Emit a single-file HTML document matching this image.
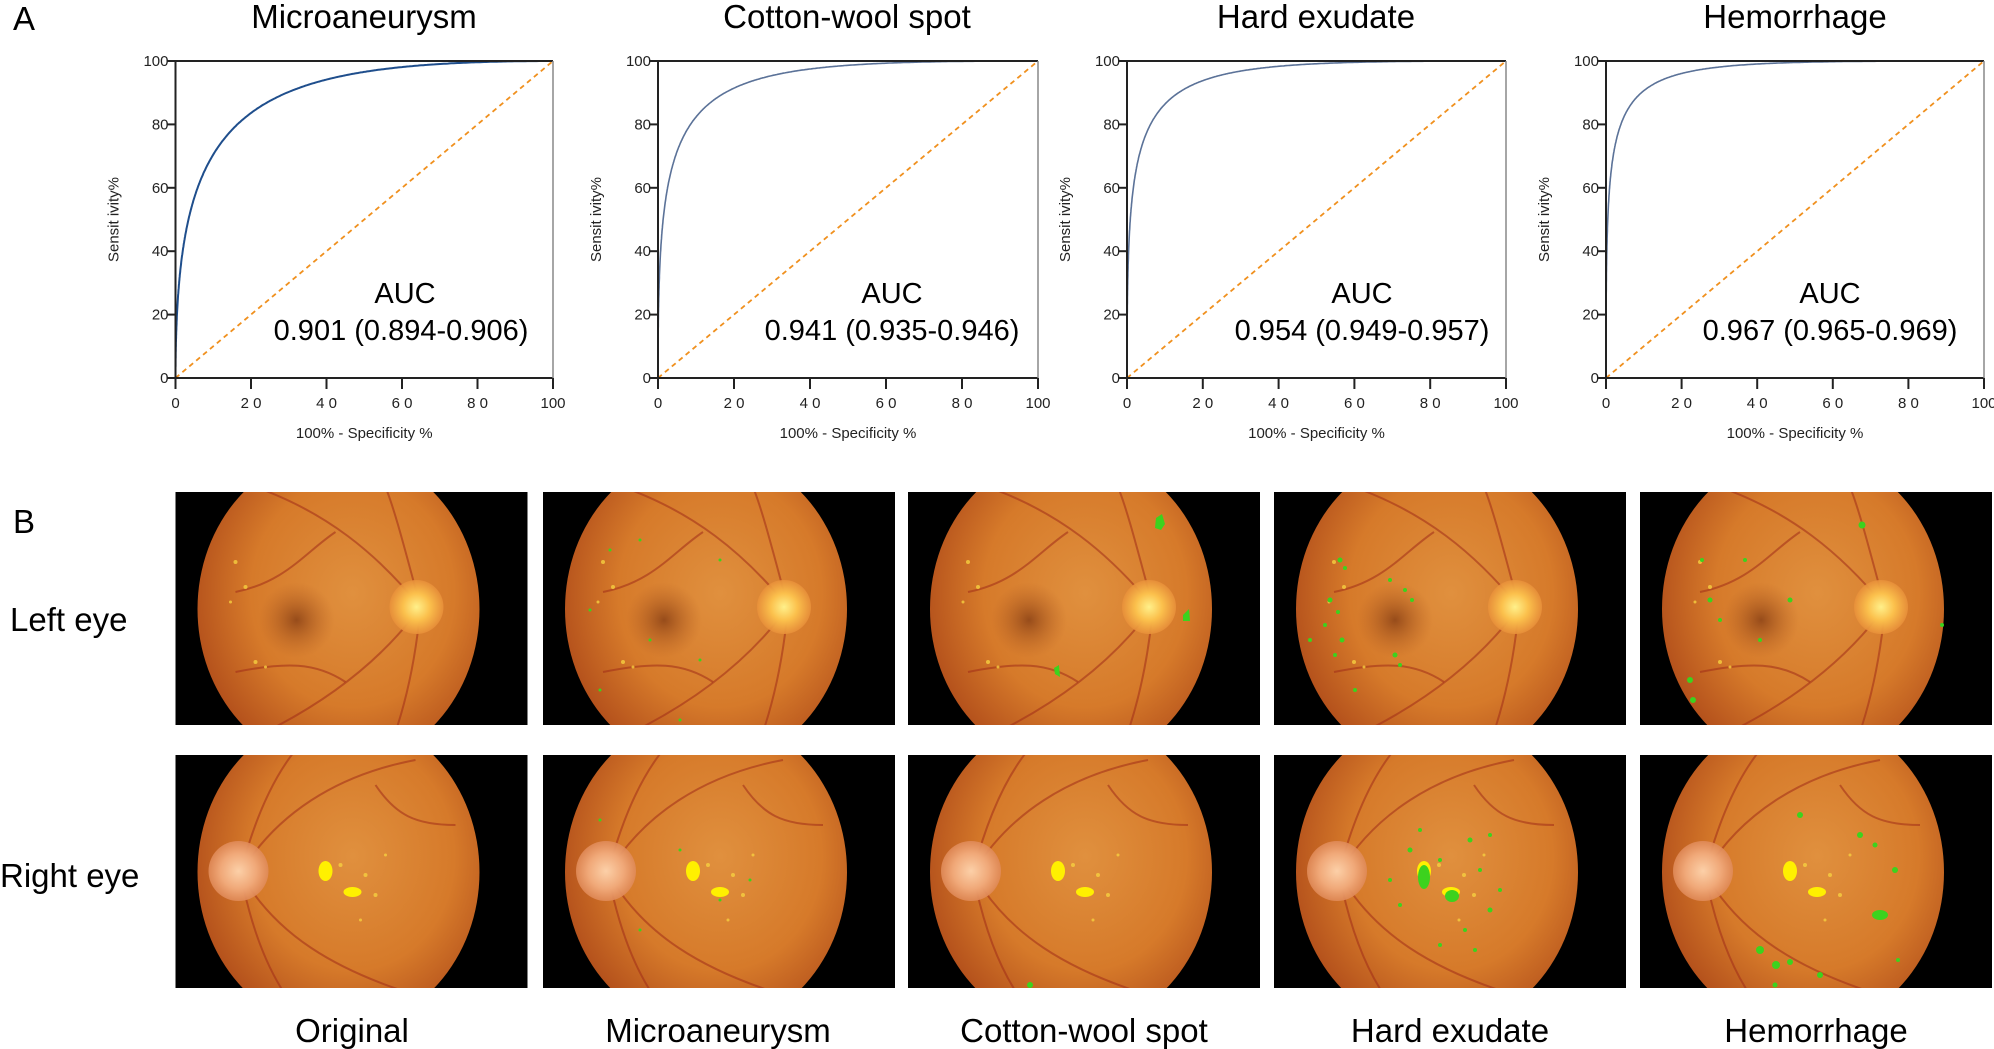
<!DOCTYPE html>
<html><head><meta charset="utf-8"><style>
html,body{margin:0;padding:0;background:#fff;}
svg{display:block;}
text{font-family:"Liberation Sans",sans-serif;fill:#000;}
.tk{font-family:"Liberation Sans Narrow","Liberation Sans",sans-serif;font-size:15px;fill:#222;}
.ttl{font-size:33px;text-anchor:middle;}
.auc{font-size:29px;text-anchor:middle;}
.lab{font-size:33px;}
</style></head><body>
<svg id="s" width="1994" height="1049" viewBox="0 0 1994 1049" xmlns="http://www.w3.org/2000/svg">
<defs>
<radialGradient id="fg" cx="0.55" cy="0.45" r="0.6">
<stop offset="0" stop-color="#e0903e"/><stop offset="0.6" stop-color="#d67a2a"/><stop offset="1" stop-color="#b04c1a"/>
</radialGradient>
<radialGradient id="disc1"><stop offset="0" stop-color="#fff08a"/><stop offset="0.5" stop-color="#fbc04c"/><stop offset="1" stop-color="#e8903a" stop-opacity="0.9"/></radialGradient>
<radialGradient id="disc2"><stop offset="0" stop-color="#fcd0a8"/><stop offset="0.6" stop-color="#f0a878"/><stop offset="1" stop-color="#e08a58" stop-opacity="0.9"/></radialGradient>
<radialGradient id="fov"><stop offset="0" stop-color="#7a3410" stop-opacity="0.7"/><stop offset="1" stop-color="#b05820" stop-opacity="0"/></radialGradient>
<clipPath id="cp"><rect x="0" y="0" width="352" height="233"/></clipPath>
<g id="f1" clip-path="url(#cp)">
<rect width="352" height="233" fill="#000"/>
<ellipse cx="163" cy="117" rx="141" ry="158" fill="url(#fg)"/>
<circle cx="121" cy="128" r="38" fill="url(#fov)"/>
<g fill="none" stroke="#a02c18" stroke-opacity="0.55" stroke-width="2">
<path d="M245 115 C 200 60 150 20 80 -5"/><path d="M245 115 C 205 170 150 210 90 240"/>
<path d="M245 115 C 230 60 220 20 210 -5"/><path d="M245 115 C 240 170 230 210 220 240"/>
<path d="M160 40 C 130 60 110 90 60 100"/><path d="M170 190 C 140 170 110 170 60 180"/>
</g>
<circle cx="241" cy="115" r="27" fill="url(#disc1)"/>
<g fill="#f6d040" opacity="0.8"><circle cx="60" cy="70" r="2"/><circle cx="70" cy="95" r="2"/><circle cx="55" cy="110" r="1.5"/><circle cx="80" cy="170" r="2"/><circle cx="90" cy="175" r="1.5"/></g>
</g>
<g id="f2" clip-path="url(#cp)">
<rect width="352" height="233" fill="#000"/>
<ellipse cx="163" cy="117" rx="141" ry="158" fill="url(#fg)"/>
<g fill="none" stroke="#a02c18" stroke-opacity="0.55" stroke-width="2">
<path d="M65 118 C 100 60 160 20 240 5"/><path d="M65 118 C 100 180 160 215 240 240"/>
<path d="M65 118 C 80 60 100 20 120 -5"/><path d="M65 118 C 75 170 90 210 110 240"/>
<path d="M200 30 C 220 60 240 70 280 70"/>
</g>
<circle cx="63" cy="116" r="30" fill="url(#disc2)"/>
<ellipse cx="150" cy="116" rx="7" ry="10" fill="#fff000"/>
<ellipse cx="177" cy="137" rx="9" ry="5" fill="#fff000"/>
<g fill="#f6d040" opacity="0.8"><circle cx="165" cy="110" r="2"/><circle cx="190" cy="120" r="2"/><circle cx="200" cy="140" r="2"/><circle cx="210" cy="100" r="1.5"/><circle cx="185" cy="165" r="1.5"/></g>
</g>
</defs>

<text x="13" y="30" class="lab">A</text>
<text x="13" y="533" class="lab">B</text>

<g id="plots"></g>

<use href="#f1" x="175.5" y="492"/>
<use href="#f1" x="543" y="492"/>
<use href="#f1" x="908" y="492"/>
<use href="#f1" x="1274" y="492"/>
<use href="#f1" x="1640" y="492"/>
<use href="#f2" x="175.5" y="755"/>
<use href="#f2" x="543" y="755"/>
<use href="#f2" x="908" y="755"/>
<use href="#f2" x="1274" y="755"/>
<use href="#f2" x="1640" y="755"/>

<g fill="#3cd21e">
<circle cx="610" cy="550" r="1.5"/><circle cx="640" cy="540" r="1.5"/><circle cx="590" cy="610" r="1.5"/><circle cx="650" cy="640" r="1.5"/><circle cx="700" cy="660" r="1.5"/><circle cx="720" cy="560" r="1.5"/><circle cx="600" cy="690" r="1.5"/><circle cx="680" cy="720" r="1.5"/>
<circle cx="600" cy="820" r="1.5"/><circle cx="680" cy="850" r="1.5"/><circle cx="720" cy="900" r="1.5"/><circle cx="640" cy="930" r="1.5"/><circle cx="750" cy="880" r="1.5"/>
<path d="M1156 518 l6 -4 l3 10 l-4 6 l-6 -2z"/><path d="M1183 615 l6 -6 l1 12 l-7 0z"/><path d="M1054 668 l5 -3 l1 12 l-5 -3z"/><circle cx="1030" cy="985" r="3"/>
<g><circle cx="1340" cy="560" r="2.5"/><circle cx="1345" cy="568" r="2"/><circle cx="1330" cy="600" r="2.5"/><circle cx="1338" cy="612" r="2"/><circle cx="1325" cy="625" r="2"/><circle cx="1342" cy="640" r="2.5"/><circle cx="1335" cy="655" r="2"/><circle cx="1395" cy="655" r="2.5"/><circle cx="1400" cy="665" r="2"/><circle cx="1390" cy="580" r="2"/><circle cx="1405" cy="590" r="2"/><circle cx="1412" cy="600" r="2"/><circle cx="1355" cy="690" r="2"/><circle cx="1310" cy="640" r="2"/>
<ellipse cx="1424" cy="877" rx="6" ry="12"/><ellipse cx="1452" cy="896" rx="7" ry="6"/><circle cx="1410" cy="850" r="2.5"/><circle cx="1440" cy="860" r="2"/><circle cx="1470" cy="840" r="2.5"/><circle cx="1480" cy="870" r="2"/><circle cx="1490" cy="910" r="2.5"/><circle cx="1465" cy="930" r="2"/><circle cx="1400" cy="905" r="2"/><circle cx="1390" cy="880" r="2"/><circle cx="1500" cy="890" r="2"/><circle cx="1475" cy="950" r="2"/><circle cx="1440" cy="945" r="2"/><circle cx="1490" cy="835" r="2"/><circle cx="1420" cy="830" r="2"/></g>
<g><circle cx="1862" cy="525" r="3.5"/><circle cx="1702" cy="560" r="2"/><circle cx="1745" cy="560" r="2"/><circle cx="1710" cy="600" r="2.5"/><circle cx="1720" cy="620" r="2"/><circle cx="1790" cy="600" r="2.5"/><circle cx="1760" cy="640" r="2"/><circle cx="1690" cy="680" r="3"/><circle cx="1693" cy="700" r="3"/><circle cx="1942" cy="625" r="2"/>
<circle cx="1800" cy="815" r="3"/><circle cx="1860" cy="835" r="3"/><circle cx="1875" cy="845" r="2.5"/><circle cx="1895" cy="870" r="3"/><ellipse cx="1880" cy="915" rx="8" ry="5"/><circle cx="1760" cy="950" r="4"/><circle cx="1776" cy="965" r="4"/><circle cx="1790" cy="962" r="3"/><circle cx="1820" cy="975" r="3"/><circle cx="1898" cy="960" r="2"/><circle cx="1775" cy="985" r="2.5"/></g>
</g>

<text x="10" y="631" class="lab">Left eye</text>
<text x="0" y="887" class="lab">Right eye</text>
<text x="352" y="1042" class="lab" text-anchor="middle">Original</text>
<text x="718" y="1042" class="lab" text-anchor="middle">Microaneurysm</text>
<text x="1084" y="1042" class="lab" text-anchor="middle">Cotton-wool spot</text>
<text x="1450" y="1042" class="lab" text-anchor="middle">Hard exudate</text>
<text x="1816" y="1042" class="lab" text-anchor="middle">Hemorrhage</text>

<text x="364" y="28" class="ttl">Microaneurysm</text>
<text x="847" y="28" class="ttl">Cotton-wool spot</text>
<text x="1316" y="28" class="ttl">Hard exudate</text>
<text x="1795" y="28" class="ttl">Hemorrhage</text>

<text x="405" y="303" class="auc">AUC</text><text x="401" y="340" class="auc">0.901 (0.894-0.906)</text>
<text x="892" y="303" class="auc">AUC</text><text x="892" y="340" class="auc">0.941 (0.935-0.946)</text>
<text x="1362" y="303" class="auc">AUC</text><text x="1362" y="340" class="auc">0.954 (0.949-0.957)</text>
<text x="1830" y="303" class="auc">AUC</text><text x="1830" y="340" class="auc">0.967 (0.965-0.969)</text>
</svg>
<script>
(function(){
var NS="http://www.w3.org/2000/svg";
var g=document.getElementById("plots");
function erf(x){var s=x<0?-1:1;x=Math.abs(x);var t=1/(1+0.3275911*x);var y=1-(((((1.061405429*t-1.453152027)*t)+1.421413741)*t-0.284496736)*t+0.254829592)*t*Math.exp(-x*x);return s*y;}
function Phi(z){return 0.5*(1+erf(z/Math.SQRT2));}
function Pinv(p){var lo=-8,hi=8;for(var i=0;i<60;i++){var m=(lo+hi)/2;if(Phi(m)<p)lo=m;else hi=m;}return (lo+hi)/2;}
var plots=[{L:175.5,R:553,a:1.82,c:"#1f4e8c",w:2},{L:658,R:1038,a:2.21,c:"#5b7298",w:1.6},{L:1127,R:1506,a:2.38,c:"#5b7298",w:1.6},{L:1606,R:1984,a:2.6,c:"#5b7298",w:1.6}];
var T=61,B=378,H=B-T;
function el(n,a,t){var e=document.createElementNS(NS,n);for(var k in a)e.setAttribute(k,a[k]);if(t!==undefined)e.textContent=t;g.appendChild(e);return e;}
plots.forEach(function(p){
 var W=p.R-p.L;
 el("line",{x1:p.L,y1:B,x2:p.R,y2:T,stroke:"#f0901e","stroke-width":1.8,"stroke-dasharray":"5,4"});
 var d="M"+p.L+","+B;
 for(var i=1;i<400;i++){var x=Math.pow(i/400,2.5);var y=Phi(p.a+Pinv(x));
  d+=" L"+(p.L+x*W).toFixed(1)+","+(B-y*H).toFixed(1);}
 d+=" L"+p.R+","+T;
 el("path",{d:d,fill:"none",stroke:p.c,"stroke-width":p.w});
 el("line",{x1:p.L,y1:T,x2:p.L,y2:B+11,stroke:"#222","stroke-width":2});
 el("line",{x1:p.L-9,y1:B,x2:p.R,y2:B,stroke:"#222","stroke-width":2});
 el("line",{x1:p.L-9,y1:T,x2:p.R,y2:T,stroke:"#222","stroke-width":2});
 el("line",{x1:p.R,y1:T,x2:p.R,y2:B+11,stroke:"#888","stroke-width":1.5});
 for(var j=0;j<=5;j++){
  var yy=B-j*H/5, xx=p.L+j*W/5;
  el("line",{x1:p.L-9,y1:yy,x2:p.L,y2:yy,stroke:"#222","stroke-width":2});
  el("line",{x1:xx,y1:B,x2:xx,y2:B+11,stroke:"#222","stroke-width":2});
  el("text",{x:p.L-7,y:yy+5,"class":"tk","text-anchor":"end"},String(j*20));
  var lab=(j==0?"0":(j==5?"100":String(j*2)+" 0"));
  el("text",{x:xx,y:408,"class":"tk","text-anchor":"middle"},lab);
 }
 el("text",{x:p.L+W/2,y:438,"class":"tk","text-anchor":"middle"},"100% - Specificity  %");
 var cx=p.L-57, cy=T+H/2;
 el("text",{x:cx,y:cy,"class":"tk","text-anchor":"middle",transform:"rotate(-90 "+cx+" "+cy+")"},"Sensit ivity%");
});
})();
</script>
</body></html>
